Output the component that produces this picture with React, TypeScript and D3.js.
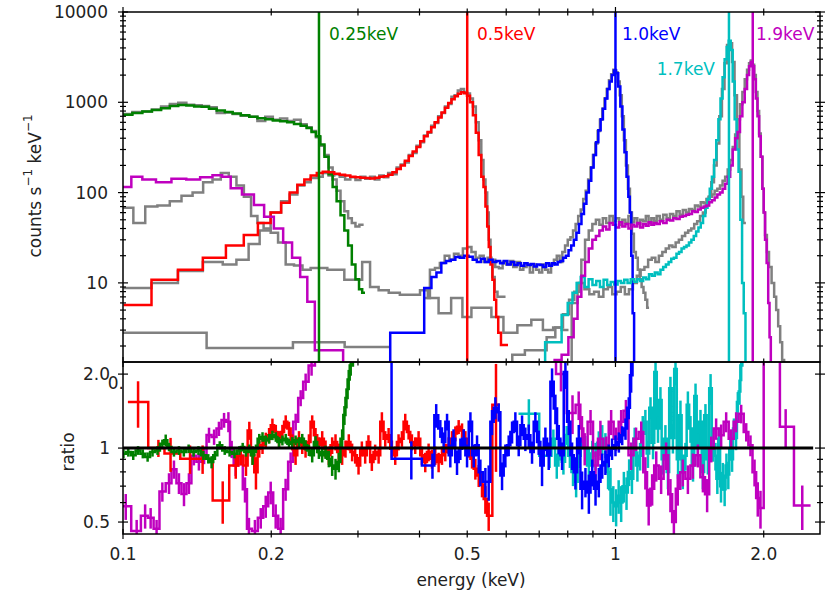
import React from "react";
import * as d3 from "d3";

type P = [number, number];
type R = [number, number, number];

// ---------- axis ticks ----------
const xTickValues = [0.1, 0.2, 0.5, 1, 2];
const xTickLabels = ["0.1", "0.2", "0.5", "1", "2.0"];
const yTopValues = [10, 100, 1000, 10000];
const yTopLabels = ["10", "100", "1000", "10000"];
const yBotValues = [0.5, 1, 2];
const yBotLabels = ["0.5", "1", "2.0"];

// ---------- line markers ----------
const lineEnergies = [0.25, 0.5, 1.0, 1.7, 1.9];
const lineLabels = ["0.25keV", "0.5keV", "1.0keV", "1.7keV", "1.9keV"];

// ---------- top panel spectra: [energy keV (bin centre), counts s^-1 keV^-1] ----------
const grayLowTop: P[] = [[0.104,2.8],[0.113,2.8],[0.122,2.8],[0.131,2.8],[0.141,2.8],[0.155,1.9],[0.17,1.9],[0.185,1.9],[0.2,1.9],[0.213,1.9],[0.23,2.2],[0.245,2.2],[0.26,2.2],[0.274,2.2],[0.29,1.95],[0.31,1.95],[0.33,1.95],[0.342,1.95]];

const grayGreenTop: P[] = [[0.102,740],[0.107,780],[0.112,790],[0.117,830],[0.122,900],[0.127,960],[0.132,990],[0.137,940],[0.142,930],[0.147,910],[0.152,880],[0.158,760],[0.164,770],[0.17,740],[0.177,710],[0.184,690],[0.191,620],[0.198,690],[0.205,640],[0.212,660],[0.219,620],[0.226,640],[0.233,570],[0.239,530],[0.244,480],[0.249,410],[0.254,330],[0.259,260],[0.264,190],[0.269,140],[0.274,105],[0.279,80],[0.284,62],[0.289,52],[0.294,46],[0.299,42],[0.305,44]];

const grayRedTop: P[] = [[0.107,8.8],[0.122,10],[0.137,13.5],[0.154,17],[0.165,16],[0.175,18],[0.185,27],[0.194,38],[0.205,60],[0.214,80],[0.222,95],[0.23,120],[0.237,130],[0.244,145],[0.251,150],[0.258,165],[0.265,155],[0.272,160],[0.279,150],[0.286,140],[0.293,148],[0.3,138],[0.307,150],[0.314,142],[0.321,150],[0.328,140],[0.335,155],[0.342,148],[0.349,165],[0.356,160],[0.363,190],[0.37,205],[0.377,215],[0.384,260],[0.391,275],[0.398,330],[0.405,360],[0.412,430],[0.419,460],[0.426,550],[0.433,590],[0.44,700],[0.447,760],[0.454,900],[0.461,960],[0.468,1150],[0.475,1200],[0.482,1350],[0.489,1400],[0.496,1300],[0.503,1250],[0.51,1100],[0.517,900],[0.524,600],[0.531,380],[0.537,230],[0.542,140],[0.547,100],[0.551,60],[0.555,30],[0.56,17],[0.565,11.6],[0.572,8],[0.58,7],[0.592,7]];

const grayMagLowTop: P[] = [[0.102,68],[0.108,46],[0.114,70],[0.121,72],[0.128,80],[0.135,92],[0.142,100],[0.149,130],[0.155,140],[0.161,165],[0.167,150],[0.173,120],[0.179,90],[0.185,55],[0.19,46],[0.196,40],[0.203,36],[0.21,28],[0.218,16],[0.227,15.6],[0.236,14],[0.245,14.6],[0.255,14.6],[0.265,14],[0.276,14],[0.287,10.8],[0.3,10.8],[0.312,17],[0.323,9],[0.338,8.3],[0.355,7.8],[0.375,7.4],[0.395,7.4],[0.407,8.3],[0.425,6.8],[0.45,4.6],[0.478,6.8],[0.5,4.2],[0.52,5.3],[0.545,5.3],[0.575,4.2],[0.61,2.8],[0.655,3.4],[0.695,3.9],[0.73,3.0],[0.765,3.2],[0.79,3.0]];

const grayBlueTop: P[] = [[0.415,6.8],[0.425,14],[0.435,14.6],[0.445,16.6],[0.455,20],[0.465,18],[0.475,21],[0.485,20],[0.495,24],[0.505,25],[0.515,22],[0.525,19],[0.535,20],[0.545,17],[0.555,19],[0.565,18],[0.575,15],[0.585,14.5],[0.595,17],[0.605,16],[0.615,17.5],[0.625,15],[0.635,17],[0.645,14],[0.655,15],[0.665,16],[0.675,13],[0.685,16],[0.695,14],[0.705,13],[0.715,16],[0.725,14],[0.735,13],[0.745,16],[0.755,18],[0.765,20],[0.775,17],[0.785,22],[0.795,26],[0.805,30],[0.815,32],[0.825,38],[0.835,45],[0.845,55],[0.855,65],[0.865,85],[0.875,105],[0.885,140],[0.895,190],[0.905,260],[0.915,350],[0.925,480],[0.935,640],[0.945,850],[0.955,1100],[0.965,1400],[0.975,1750],[0.985,2050],[0.995,2300],[1.005,2150],[1.015,1700],[1.025,1200],[1.035,700],[1.045,380],[1.055,200],[1.065,110],[1.075,60],[1.085,35],[1.095,22],[1.105,19],[1.115,14],[1.125,11],[1.135,9],[1.145,7.8],[1.155,6.5],[1.165,5.3]];

const grayCyanTop: P[] = [[0.6,0.5],[0.635,1.6],[0.675,1.8],[0.71,1.8],[0.74,2.5],[0.77,3.2],[0.795,4.5],[0.815,6.5],[0.835,8],[0.855,10],[0.875,8.5],[0.895,7.5],[0.915,8],[0.935,7],[0.955,8.5],[0.975,9],[0.995,7.5],[1.015,8],[1.035,9],[1.055,7.5],[1.075,8.5],[1.095,10],[1.115,12],[1.135,14],[1.155,15],[1.175,18],[1.195,19],[1.215,17],[1.235,20],[1.255,22],[1.275,24],[1.295,26],[1.315,25],[1.335,28],[1.355,30],[1.375,33],[1.395,36],[1.415,38],[1.435,40],[1.455,45],[1.475,48],[1.495,55],[1.515,60],[1.535,72],[1.555,90],[1.575,130],[1.595,200],[1.615,350],[1.635,700],[1.655,1400],[1.675,2700],[1.695,4300],[1.715,4500],[1.735,2800],[1.755,1200],[1.775,450],[1.795,180],[1.81,90],[1.825,46],[1.835,46]];

const grayMagHighTop: P[] = [[0.8,0.5],[0.83,6],[0.845,10],[0.86,18],[0.875,30],[0.89,38],[0.905,45],[0.92,50],[0.935,44],[0.95,52],[0.965,46],[0.98,55],[0.995,48],[1.01,52],[1.025,44],[1.04,50],[1.055,46],[1.07,55],[1.085,47],[1.1,52],[1.115,45],[1.13,50],[1.145,48],[1.16,55],[1.175,46],[1.19,52],[1.205,48],[1.22,55],[1.24,50],[1.26,57],[1.28,52],[1.3,58],[1.32,55],[1.34,62],[1.36,57],[1.38,64],[1.4,60],[1.42,66],[1.44,64],[1.46,72],[1.48,70],[1.5,78],[1.52,76],[1.54,85],[1.56,90],[1.58,95],[1.6,105],[1.62,110],[1.64,120],[1.66,135],[1.68,150],[1.7,180],[1.72,230],[1.74,320],[1.76,440],[1.78,650],[1.8,950],[1.82,1300],[1.84,1800],[1.86,2300],[1.875,2700],[1.89,2900],[1.905,2600],[1.92,2000],[1.935,1300],[1.95,800],[1.965,450],[1.98,250],[1.995,110],[2.005,60],[2.02,34],[2.04,22],[2.06,15],[2.09,10],[2.11,7],[2.13,5],[2.15,3.3],[2.17,2.2],[2.19,1.4],[2.21,0.5]];

const greenTop: P[] = [[0.102,730],[0.107,760],[0.112,790],[0.117,820],[0.122,860],[0.127,910],[0.132,935],[0.137,920],[0.142,900],[0.147,890],[0.152,850],[0.158,810],[0.164,780],[0.17,750],[0.177,720],[0.184,690],[0.191,665],[0.198,650],[0.205,630],[0.212,615],[0.219,600],[0.226,575],[0.233,550],[0.239,520],[0.244,470],[0.249,420],[0.254,340],[0.259,250],[0.264,160],[0.269,115],[0.274,80],[0.279,56],[0.284,38],[0.289,26],[0.294,16],[0.299,11],[0.304,8.5],[0.308,7.8]];

const redTop: P[] = [[0.107,5.7],[0.122,10.8],[0.137,14],[0.154,19],[0.17,26],[0.182,34],[0.194,46],[0.205,60],[0.214,77],[0.222,100],[0.23,122],[0.237,140],[0.244,155],[0.251,165],[0.258,170],[0.265,168],[0.272,162],[0.279,158],[0.286,155],[0.293,150],[0.3,148],[0.307,146],[0.314,145],[0.321,143],[0.328,146],[0.335,150],[0.342,152],[0.349,158],[0.356,168],[0.363,182],[0.37,200],[0.377,225],[0.384,255],[0.391,285],[0.398,320],[0.405,370],[0.412,420],[0.419,470],[0.426,530],[0.433,600],[0.44,680],[0.447,770],[0.454,870],[0.461,980],[0.468,1080],[0.475,1170],[0.482,1240],[0.489,1290],[0.496,1260],[0.503,1180],[0.51,1000],[0.517,720],[0.524,460],[0.531,260],[0.537,150],[0.542,115],[0.547,70],[0.551,42],[0.555,25],[0.56,16],[0.565,10.8],[0.57,6.5],[0.575,4.2],[0.581,2.8],[0.59,2.05],[0.6,2.05]];

const blueTop: P[] = [[0.338,0.5],[0.36,2.8],[0.4,2.8],[0.418,8.8],[0.428,11.6],[0.438,13],[0.448,16.6],[0.458,17.5],[0.468,18],[0.478,19.4],[0.488,19],[0.498,20],[0.508,19.5],[0.518,18],[0.528,17],[0.538,18.5],[0.548,17],[0.558,18],[0.568,17],[0.578,17.5],[0.588,16.5],[0.598,17.5],[0.608,16],[0.618,17],[0.628,15.8],[0.638,16.5],[0.648,15.5],[0.658,16.5],[0.668,15.8],[0.678,16.2],[0.688,15.2],[0.698,16],[0.708,15.8],[0.718,15],[0.728,16.5],[0.738,15.5],[0.748,16.5],[0.758,16],[0.768,17],[0.778,17.5],[0.788,19],[0.798,20],[0.808,23],[0.818,26],[0.828,30],[0.838,36],[0.848,45],[0.858,58],[0.868,75],[0.878,100],[0.888,135],[0.898,190],[0.908,260],[0.918,360],[0.928,490],[0.938,650],[0.948,850],[0.958,1100],[0.968,1400],[0.978,1700],[0.988,2000],[0.998,2250],[1.008,2100],[1.018,1500],[1.028,900],[1.038,500],[1.048,280],[1.058,150],[1.066,90],[1.073,60],[1.08,20],[1.087,4.6],[1.095,0.5]];

const cyanTop: P[] = [[0.7,0.5],[0.74,2.2],[0.765,2.2],[0.79,4.4],[0.81,6],[0.826,7.8],[0.842,10],[0.858,11.6],[0.874,9],[0.89,11],[0.906,9.5],[0.922,10.5],[0.938,9],[0.954,10.8],[0.97,9.5],[0.986,10.2],[1.002,9.6],[1.018,10.5],[1.034,10],[1.05,10.8],[1.066,10],[1.082,11],[1.098,10.3],[1.114,11],[1.13,10.5],[1.146,11.5],[1.162,11],[1.178,12.5],[1.194,12],[1.21,13],[1.226,12.5],[1.242,14],[1.258,15],[1.274,16],[1.29,17],[1.306,18.5],[1.322,19],[1.338,21],[1.354,22],[1.37,24],[1.386,25],[1.402,26],[1.418,28],[1.434,30],[1.45,33],[1.466,37],[1.482,41],[1.498,46],[1.514,55],[1.53,68],[1.546,85],[1.562,110],[1.578,150],[1.594,230],[1.61,380],[1.626,650],[1.642,1100],[1.658,1900],[1.674,3000],[1.69,4100],[1.706,4800],[1.722,3800],[1.738,1700],[1.754,650],[1.77,300],[1.786,170],[1.8,50],[1.815,10],[1.828,4.6],[1.845,0.5]];

const magentaTop: P[] = [[0.1015,115],[0.1065,150],[0.1125,140],[0.121,130],[0.13,142],[0.139,140],[0.148,148],[0.156,156],[0.162,150],[0.169,112],[0.18,95],[0.189,73],[0.198,54],[0.207,40],[0.216,28],[0.225,19],[0.233,11.6],[0.2405,6.2],[0.25,1.8],[0.261,1.8],[0.272,1.8],[0.288,0.5],[0.74,0.5],[0.765,1.4],[0.79,1.6],[0.815,2.5],[0.83,4],[0.845,7],[0.86,12],[0.875,17],[0.89,24],[0.905,30],[0.92,33],[0.935,38],[0.95,42],[0.965,39],[0.98,46],[0.995,44],[1.01,41],[1.025,47],[1.04,42],[1.055,45],[1.07,40],[1.085,44],[1.1,42],[1.115,46],[1.13,41],[1.145,45],[1.16,43],[1.175,47],[1.19,44],[1.205,46],[1.22,45],[1.24,48],[1.26,46],[1.28,50],[1.3,49],[1.32,52],[1.34,51],[1.36,54],[1.38,55],[1.4,57],[1.42,58],[1.44,62],[1.46,61],[1.48,65],[1.5,68],[1.52,70],[1.54,72],[1.56,78],[1.58,82],[1.6,88],[1.62,95],[1.64,100],[1.66,110],[1.68,125],[1.7,150],[1.72,200],[1.74,300],[1.76,400],[1.78,470],[1.8,700],[1.82,1000],[1.84,1400],[1.86,2000],[1.875,2500],[1.89,2800],[1.905,2500],[1.92,1800],[1.935,1100],[1.95,700],[1.965,420],[1.98,250],[1.995,110],[2.005,60],[2.02,30],[2.035,16.6],[2.05,6],[2.06,2.5],[2.075,0.5]];

// ---------- ratio panel: [energy keV, ratio, error] ----------
const greenRatio: R[] = [[0.1002,0.948,0.04],[0.1025,0.963,0.04],[0.1049,0.934,0.04],[0.1073,0.978,0.04],[0.1097,0.948,0.04],[0.1122,0.92,0.04],[0.1148,0.963,0.04],[0.1175,0.978,0.04],[0.1202,1.042,0.04],[0.1221,1.075,0.06],[0.124,1.01,0.04],[0.1269,0.963,0.04],[0.1299,0.978,0.04],[0.1329,0.963,0.04],[0.1359,0.994,0.04],[0.1391,0.963,0.04],[0.1423,0.978,0.04],[0.1456,0.934,0.04],[0.149,0.905,0.04],[0.1513,0.877,0.05],[0.1537,0.934,0.04],[0.1572,1.026,0.04],[0.1609,0.978,0.04],[0.1646,0.963,0.04],[0.1684,0.948,0.04],[0.1723,0.978,0.04],[0.175,1.01,0.04],[0.1777,0.963,0.04],[0.1805,0.994,0.04],[0.1833,0.934,0.08],[0.1862,0.994,0.04],[0.1891,1.092,0.05],[0.192,1.11,0.05],[0.195,1.075,0.05],[0.198,1.092,0.05],[0.2011,1.127,0.05],[0.2043,1.11,0.05],[0.2074,1.058,0.05],[0.2107,1.075,0.05],[0.214,1.092,0.05],[0.2173,1.042,0.05],[0.2207,1.058,0.05],[0.2241,1.075,0.05],[0.2277,1.058,0.05],[0.2312,1.092,0.05],[0.2348,1.026,0.05],[0.2385,0.978,0.05],[0.2422,0.934,0.06],[0.246,1.058,0.06],[0.2499,0.963,0.06],[0.2538,0.934,0.06],[0.2578,0.963,0.06],[0.2618,0.905,0.07],[0.2659,0.85,0.08],[0.2701,0.824,0.08],[0.2743,0.877,0.08],[0.2786,1.092,0.1],[0.2816,1.362,0.12],[0.2843,1.6,0.15],[0.2873,1.9,0.18],[0.29,2.17,0.2],[0.296,3.0,0]];

const redRatio: R[] = [[0.1073,1.54,0.33],[0.118,1.0,0.08],[0.1249,0.95,0.15],[0.1368,0.905,0.12],[0.1451,0.905,0.12],[0.1594,0.612,0.12],[0.1694,0.85,0.1],[0.1735,0.93,0.08],[0.1777,0.85,0.08],[0.1805,1.18,0.1],[0.1833,0.934,0.08],[0.1862,0.798,0.12],[0.1891,0.994,0.08],[0.192,1.026,0.08],[0.195,1.075,0.08],[0.198,1.127,0.08],[0.2011,1.238,0.08],[0.2043,1.163,0.08],[0.2074,1.092,0.08],[0.2107,1.163,0.08],[0.214,1.279,0.08],[0.2173,1.2,0.08],[0.2207,1.058,0.08],[0.2241,0.934,0.08],[0.2277,1.092,0.08],[0.2312,1.026,0.08],[0.2348,0.994,0.08],[0.2385,1.058,0.08],[0.2422,1.279,0.08],[0.246,1.127,0.08],[0.2499,1.026,0.08],[0.2538,1.092,0.08],[0.2578,0.994,0.08],[0.2618,0.934,0.08],[0.2659,1.026,0.08],[0.2701,1.058,0.08],[0.2743,0.963,0.08],[0.2786,0.934,0.08],[0.283,0.994,0.08],[0.2874,1.058,0.08],[0.2919,0.963,0.08],[0.2961,0.934,0.07],[0.3008,0.85,0.07],[0.3055,0.994,0.07],[0.3103,0.934,0.07],[0.3151,1.058,0.07],[0.3201,0.877,0.07],[0.3251,0.963,0.07],[0.3304,0.934,0.07],[0.3355,1.279,0.12],[0.3408,1.092,0.08],[0.3462,1.127,0.08],[0.3516,0.994,0.08],[0.3571,0.934,0.08],[0.3627,1.058,0.08],[0.3684,1.092,0.08],[0.3742,1.279,0.1],[0.3801,1.163,0.08],[0.3861,1.058,0.08],[0.3921,1.026,0.08],[0.3983,1.092,0.08],[0.4046,0.934,0.08],[0.4109,0.877,0.08],[0.4174,0.963,0.08],[0.424,0.905,0.08],[0.4306,0.934,0.08],[0.4374,0.877,0.08],[0.4443,0.934,0.08],[0.4513,0.963,0.08],[0.4584,1.026,0.08],[0.4656,1.092,0.08],[0.473,1.145,0.08],[0.4804,1.22,0.08],[0.488,1.18,0.08],[0.4957,1.092,0.08],[0.5035,0.994,0.08],[0.5114,0.905,0.08],[0.5194,0.824,0.08],[0.5276,0.774,0.08],[0.5358,0.71,0.08],[0.5443,0.62,0.08],[0.5528,0.53,0.07],[0.572,1.5,0.7]];

const blueRatio: R[] = [[0.32,3.0,0],[0.385,0.905,0.16],[0.425,0.85,0.1],[0.4325,1.36,0.15],[0.4409,1.2,0.1],[0.4478,1.058,0.1],[0.455,1.279,0.1],[0.462,0.934,0.1],[0.469,1.092,0.1],[0.4767,0.877,0.1],[0.4842,0.994,0.1],[0.4918,1.092,0.1],[0.4996,0.934,0.1],[0.5075,1.279,0.12],[0.5154,0.934,0.1],[0.5235,1.026,0.1],[0.5317,0.798,0.1],[0.5443,0.73,0.1],[0.5528,0.73,0.12],[0.5615,1.279,0.15],[0.5703,1.46,0.15],[0.5793,1.4,0.12],[0.5884,0.774,0.1],[0.5976,0.934,0.1],[0.607,1.026,0.1],[0.6166,1.163,0.12],[0.6262,1.279,0.12],[0.6361,1.026,0.1],[0.6461,1.238,0.12],[0.6562,1.092,0.12],[0.6665,1.127,0.12],[0.677,0.963,0.1],[0.6876,1.279,0.12],[0.6984,1.058,0.12],[0.7094,0.85,0.15],[0.7206,1.092,0.12],[0.7319,0.934,0.12],[0.7434,1.86,0.25],[0.7551,1.45,0.2],[0.767,1.092,0.15],[0.779,0.934,0.12],[0.7913,2.04,0.3],[0.8037,1.279,0.15],[0.8164,0.934,0.12],[0.8292,0.798,0.12],[0.8422,1.092,0.15],[0.8555,0.683,0.12],[0.869,0.73,0.1],[0.883,0.66,0.12],[0.897,0.798,0.1],[0.911,0.683,0.1],[0.925,0.73,0.1],[0.94,0.85,0.1],[0.954,0.877,0.1],[0.969,0.934,0.1],[0.984,0.994,0.1],[1.0,1.026,0.1],[1.016,1.058,0.1],[1.032,1.127,0.1],[1.048,1.2,0.12],[1.064,1.46,0.15],[1.076,1.98,0.3],[1.09,3.0,0]];

const cyanRatio: R[] = [[0.667,1.38,0.2],[0.735,0.93,0.1],[0.748,1.09,0.1],[0.76,0.85,0.1],[0.772,0.99,0.1],[0.784,0.88,0.1],[0.796,1.13,0.1],[0.808,0.93,0.1],[0.82,0.8,0.1],[0.832,0.73,0.1],[0.844,0.93,0.1],[0.856,1.09,0.1],[0.868,1.0,0.12],[0.883,0.85,0.15],[0.897,0.95,0.12],[0.911,0.93,0.12],[0.925,1.05,0.12],[0.94,1.09,0.15],[0.954,1.03,0.12],[0.966,0.8,0.12],[0.977,0.68,0.15],[0.99,0.6,0.1],[1.003,0.58,0.1],[1.015,0.64,0.1],[1.027,0.6,0.1],[1.04,0.7,0.1],[1.053,0.66,0.1],[1.066,0.8,0.1],[1.08,0.75,0.1],[1.094,1.09,0.12],[1.108,0.85,0.12],[1.122,0.93,0.12],[1.136,1.2,0.15],[1.15,1.28,0.15],[1.164,0.95,0.12],[1.178,1.46,0.15],[1.192,1.05,0.15],[1.206,2.04,0.3],[1.22,1.2,0.15],[1.234,1.57,0.2],[1.248,0.9,0.12],[1.263,1.09,0.15],[1.278,0.8,0.12],[1.293,1.75,0.2],[1.308,1.1,0.15],[1.324,2.1,0.3],[1.34,0.9,0.15],[1.355,1.36,0.2],[1.37,0.8,0.12],[1.387,0.93,0.12],[1.403,1.5,0.2],[1.42,1.2,0.15],[1.437,0.85,0.12],[1.454,1.63,0.2],[1.47,1.0,0.15],[1.488,1.28,0.15],[1.505,0.8,0.12],[1.523,1.36,0.15],[1.54,0.9,0.12],[1.56,1.75,0.25],[1.578,1.0,0.12],[1.596,0.93,0.12],[1.61,0.75,0.1],[1.624,1.09,0.12],[1.638,0.7,0.1],[1.652,0.77,0.1],[1.666,0.68,0.1],[1.68,0.85,0.1],[1.695,0.78,0.1],[1.71,0.99,0.1],[1.725,0.9,0.1],[1.74,1.2,0.12],[1.757,1.1,0.12],[1.772,1.54,0.15],[1.786,1.7,0.2],[1.8,2.17,0.3],[1.82,3.0,0]];

const magentaRatio: R[] = [[0.1013,0.58,0.07],[0.1066,0.46,0.05],[0.1109,0.53,0.06],[0.1138,0.52,0.05],[0.117,0.47,0.04],[0.1202,0.665,0.06],[0.124,0.72,0.07],[0.1269,0.82,0.07],[0.1299,0.72,0.07],[0.133,0.65,0.07],[0.1361,0.72,0.07],[0.1393,0.93,0.08],[0.1426,0.88,0.07],[0.1461,0.93,0.07],[0.1495,1.13,0.08],[0.1531,1.11,0.08],[0.1566,1.2,0.08],[0.1604,1.3,0.09],[0.1637,1.28,0.12],[0.1662,0.99,0.08],[0.1694,0.85,0.08],[0.1733,0.93,0.08],[0.1769,0.68,0.08],[0.1802,0.47,0.05],[0.1853,0.46,0.05],[0.1904,0.52,0.05],[0.1949,0.58,0.06],[0.1995,0.66,0.07],[0.2042,0.53,0.06],[0.209,0.47,0.05],[0.2139,0.68,0.07],[0.219,0.88,0.08],[0.2242,1.28,0.1],[0.2295,1.6,0.12],[0.2349,1.86,0.15],[0.2415,2.17,0.2],[0.2492,3.0,0],[0.74,3.0,0],[0.775,2.0,0.3],[0.818,1.39,0.25],[0.842,1.5,0.2],[0.855,1.2,0.15],[0.866,1.0,0.15],[0.89,1.279,0.15],[0.911,0.85,0.12],[0.932,1.092,0.2],[0.958,0.994,0.12],[0.98,1.279,0.15],[1.003,1.092,0.12],[1.027,1.279,0.15],[1.05,1.42,0.15],[1.076,0.934,0.12],[1.101,1.092,0.12],[1.128,1.163,0.12],[1.15,0.798,0.12],[1.168,0.584,0.1],[1.187,0.683,0.1],[1.21,0.85,0.12],[1.238,0.75,0.1],[1.267,0.934,0.12],[1.293,0.648,0.1],[1.314,0.5,0.06],[1.338,0.683,0.1],[1.37,0.798,0.1],[1.403,0.75,0.1],[1.436,0.85,0.1],[1.47,0.934,0.1],[1.505,0.76,0.1],[1.535,0.648,0.1],[1.565,0.994,0.12],[1.601,1.2,0.12],[1.639,1.127,0.12],[1.678,1.279,0.12],[1.718,1.092,0.1],[1.758,1.279,0.12],[1.8,1.38,0.12],[1.843,1.163,0.1],[1.88,1.026,0.1],[1.916,0.798,0.1],[1.945,0.626,0.1],[1.97,0.57,0.1],[2.03,3.0,0],[2.1,3.0,0],[2.216,1.22,0.22],[2.395,0.584,0.12]];

const COL = {
  green: "#008000",
  red: "#ff0000",
  blue: "#0000ff",
  cyan: "#00bfbf",
  magenta: "#bf00bf",
  gray: "#808080",
};
const lineColors = [COL.green, COL.red, COL.blue, COL.cyan, COL.magenta];

export default function App() {
  const W = 827, H = 594;
  const X0 = 123, X1 = 820, T0 = 12, T1 = 362, B1 = 534;
  const FONT = "DejaVu Sans, Verdana, sans-serif";
  const FS = 17;

  const x = d3.scaleLog().domain([0.1, 2.602]).range([X0, X1]);
  const yT = d3.scaleLog().domain([1.33, 10000]).range([T1, T0]);
  const yB = d3.scaleLog().domain([0.447, 2.24]).range([B1, T1]);

  const stepPath = (pts: number[][], y: any) => {
    const px = pts.map((p) => x(p[0]));
    const n = px.length;
    const edges = px.map((v, i) => (i === 0 ? v - (px[1] - v) / 2 : (px[i - 1] + v) / 2));
    const end = px[n - 1] + (px[n - 1] - px[n - 2]) / 2;
    const data: [number, number][] = pts.map((p, i) => [edges[i], y(p[1])]);
    data.push([end, y(pts[n - 1][1])]);
    return d3.line().curve(d3.curveStepAfter)(data) || "";
  };

  const topSeries: [P[], string][] = [
    [grayLowTop, COL.gray],
    [grayGreenTop, COL.gray],
    [grayRedTop, COL.gray],
    [grayMagLowTop, COL.gray],
    [grayBlueTop, COL.gray],
    [grayCyanTop, COL.gray],
    [grayMagHighTop, COL.gray],
    [greenTop, COL.green],
    [redTop, COL.red],
    [blueTop, COL.blue],
    [cyanTop, COL.cyan],
    [magentaTop, COL.magenta],
  ];

  const ratioSeries: [R[], string][] = [
    [cyanRatio, COL.cyan],
    [magentaRatio, COL.magenta],
    [redRatio, COL.red],
    [blueRatio, COL.blue],
    [greenRatio, COL.green],
  ];

  const xTicks = x.ticks();
  const yTTicks = yT.ticks();
  const yBTicks = yB.ticks();
  const isPow10 = (v: number) => Math.abs(Math.log10(v) - Math.round(Math.log10(v))) < 1e-6;

  const tickEls: JSX.Element[] = [];
  const tk = (x1: number, y1: number, x2: number, y2: number, k: string) =>
    tickEls.push(<line key={k} x1={x1} y1={y1} x2={x2} y2={y2} stroke="#000" strokeWidth={1.2} />);

  // x ticks on all four horizontal spines
  xTicks.forEach((v, i) => {
    const px = x(v);
    const L = isPow10(v) ? 5 : 3.5;
    [T0, T1, B1].forEach((yy, j) => tk(px, yy - L, px, yy + L, `xt${i}_${j}`));
  });
  yTTicks.forEach((v, i) => {
    const py = yT(v);
    if (py < T0 - 0.5 || py > T1 + 0.5) return;
    const L = isPow10(v) ? 5 : 3;
    tk(X0 - L, py, X0 + L, py, `ytl${i}`);
    tk(X1 - L, py, X1 + L, py, `ytr${i}`);
  });
  yBTicks.forEach((v, i) => {
    const py = yB(v);
    const major = yBotValues.includes(v);
    const L = major ? 5 : 3;
    tk(X0 - L, py, X0 + L, py, `ybl${i}`);
    tk(X1 - L, py, X1 + L, py, `ybr${i}`);
  });

  const labelPos: [number, number, string][] = [
    [329, 39.5, "start"],
    [477, 39.5, "start"],
    [622, 39.5, "start"],
    [715, 75, "end"],
    [756, 39.5, "start"],
  ];

  return (
    <svg width={W} height={H} style={{ position: "absolute", left: 0, top: 0, background: "#fff" }} fontFamily={FONT}>
      <defs>
        <clipPath id="clipTop">
          <rect x={X0} y={T0} width={X1 - X0} height={T1 - T0} />
        </clipPath>
        <clipPath id="clipBot">
          <rect x={X0} y={T1} width={X1 - X0} height={B1 - T1} />
        </clipPath>
      </defs>
      <rect x={0} y={0} width={W} height={H} fill="#fff" />

      {/* top panel */}
      <g clipPath="url(#clipTop)" fill="none" strokeWidth={2.5}>
        {topSeries.map(([pts, c], i) => (
          <path key={`ts${i}`} d={stepPath(pts, yT)} stroke={c} />
        ))}
        {lineEnergies.map((e, i) => (
          <line key={`vl${i}`} x1={x(e)} x2={x(e)} y1={T0} y2={T1} stroke={lineColors[i]} strokeWidth={2.5} />
        ))}
      </g>
      {lineLabels.map((t, i) => (
        <text key={`ll${i}`} x={labelPos[i][0]} y={labelPos[i][1]} textAnchor={labelPos[i][2] as any} fill={lineColors[i]} fontSize={FS}>
          {t}
        </text>
      ))}

      {/* ratio panel */}
      <g clipPath="url(#clipBot)" fill="none" strokeWidth={2.5}>
        {ratioSeries.map(([pts, c], i) => (
          <g key={`rs${i}`} stroke={c}>
            <path d={stepPath(pts, yB)} />
            {pts.filter((p) => p[2] > 0).map((p, j) => (
              <line key={j} x1={x(p[0])} x2={x(p[0])} y1={yB(Math.max(p[1] - p[2], 0.3))} y2={yB(p[1] + p[2])} />
            ))}
          </g>
        ))}
        <line x1={x(0.1)} x2={x(2.52)} y1={yB(1)} y2={yB(1)} stroke="#000" strokeWidth={3} />
      </g>

      {/* frames */}
      <rect x={X0} y={T0} width={X1 - X0} height={T1 - T0} fill="none" stroke="#000" strokeWidth={1.5} />
      <rect x={X0} y={T1} width={X1 - X0} height={B1 - T1} fill="none" stroke="#000" strokeWidth={1.5} />
      {tickEls}

      {/* tick labels */}
      {yTopValues.map((v, i) => (
        <text key={`ytl${i}`} x={108} y={yT(v)} textAnchor="end" dominantBaseline="central" fontSize={FS} fill="#222">
          {yTopLabels[i]}
        </text>
      ))}
      {yBotValues.map((v, i) => (
        <text key={`ybl${i}`} x={110} y={yB(v)} textAnchor="end" dominantBaseline="central" fontSize={FS} fill="#222">
          {yBotLabels[i]}
        </text>
      ))}
      <text x={124} y={383} textAnchor="end" dominantBaseline="central" fontSize={FS} fill="#222">0.</text>
      {xTickValues.map((v, i) => (
        <text key={`xtl${i}`} x={x(v)} y={560} textAnchor="middle" fontSize={FS} fill="#222">
          {xTickLabels[i]}
        </text>
      ))}

      {/* axis labels */}
      <text x={471} y={586} textAnchor="middle" fontSize={FS} fill="#222">energy (keV)</text>
      <text transform="translate(67.5,452) rotate(-90)" textAnchor="middle" dominantBaseline="central" fontSize={FS} fill="#222">ratio</text>
      <text transform="translate(35,186) rotate(-90)" textAnchor="middle" dominantBaseline="central" fontSize={FS} fill="#222">
        counts s<tspan dy={-7} fontSize={12}>−1</tspan>
        <tspan dy={7}> keV</tspan>
        <tspan dy={-7} fontSize={12}>−1</tspan>
      </text>
    </svg>
  );
}
